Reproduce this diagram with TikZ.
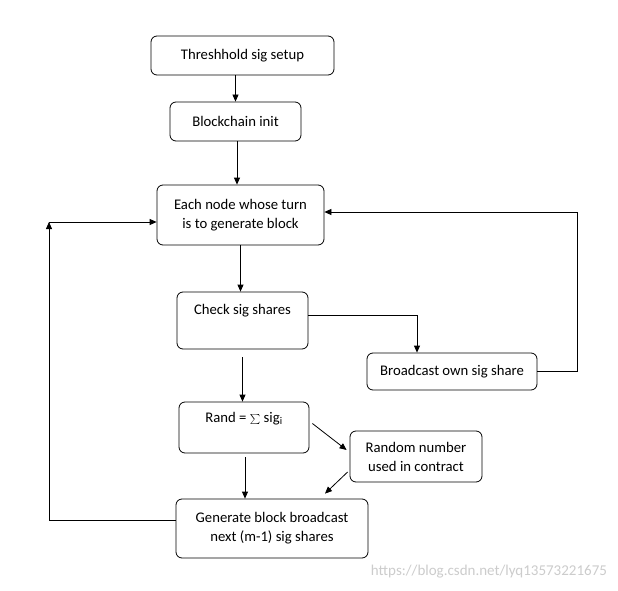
\documentclass[tikz,border=0pt]{standalone}
\usepackage{fontspec}
\setmainfont{Carlito}
\usetikzlibrary{arrows.meta,calc}
\begin{document}
\begin{tikzpicture}[x=1pt,y=-1pt,
  box/.style={draw, rounded corners=6pt, line width=0.8pt, align=center, inner sep=0pt,
    font=\fontsize{14.7}{19}\selectfont},
  arr/.style={line width=0.8pt, -{Triangle[length=7pt,width=6pt]}},
  ln/.style={line width=0.8pt}]
\useasboundingbox[fill=white] (0,0) rectangle (618,591);
\node[box, minimum width=183pt, minimum height=39pt] (n1) at (242.5,55.5) {Threshhold sig setup};
\node[box, minimum width=131pt, minimum height=39pt] (n2) at (235.5,121.5) {Blockchain init};
\node[box, minimum width=167pt, minimum height=60pt] (n3) at (240.5,215) {Each node whose turn\\is to generate block};
\node[box, minimum width=131pt, minimum height=57pt] (n4) at (242.5,320.5) {Check sig shares\\[3pt]\mbox{}};
\node[box, minimum width=170pt, minimum height=37pt] (n5) at (452,371.5) {Broadcast own sig share};
\node[box, minimum width=130pt, minimum height=51pt] (n6) at (244,427.5) {Rand = $\sum$ sig\textsubscript{i}\\[1pt]\mbox{}};
\node[box, minimum width=132pt, minimum height=51pt] (n7) at (416,456.5) {Random number\\used in contract};
\node[box, minimum width=192pt, minimum height=59pt] (n8) at (272,528.5) {Generate block broadcast\\next (m-1) sig shares};
\node[font=\fontsize{15}{17}\selectfont, text=black!20] (wm) at (489,572) {https://blog.csdn.net/lyq13573221675};
\coordinate (r1) at (577,212);
\coordinate (l1) at (49,222);
\draw[arr] (n2.north |- n1.south) -- (n2.north);
\draw[arr] ([xshift=1.5pt]n2.south) -- ([xshift=1.5pt]n2.south |- n3.north);
\draw[arr] (n3.south) -- (n3.south |- n4.north);
\draw[arr] ([yshift=5.5pt]n4.east) -| ([xshift=-35pt]n5.north);
\draw[arr] (n5.east) -| (r1) -- (r1 -| n3.east);
\draw[arr] ([yshift=-8pt]n4.south) -- (n4.south |- n6.north);
\draw[arr] ([shift={(3pt,4pt)}]n6.east) -- ([shift={(-3pt,6.5pt)}]n7.west);
\draw[arr] ([shift={(-2pt,-15.5pt)}]n7.west) -- ([shift={(53pt,5pt)}]n8.north);
\draw[arr] ([xshift=1pt,yshift=-4pt]n6.south) -- ([xshift=1pt]n6.south |- n8.north);
\draw[arr] ([yshift=8.5pt]n8.west) -| (l1);
\draw[arr] (l1) -- (l1 -| n3.west);
\end{tikzpicture}
\end{document}
